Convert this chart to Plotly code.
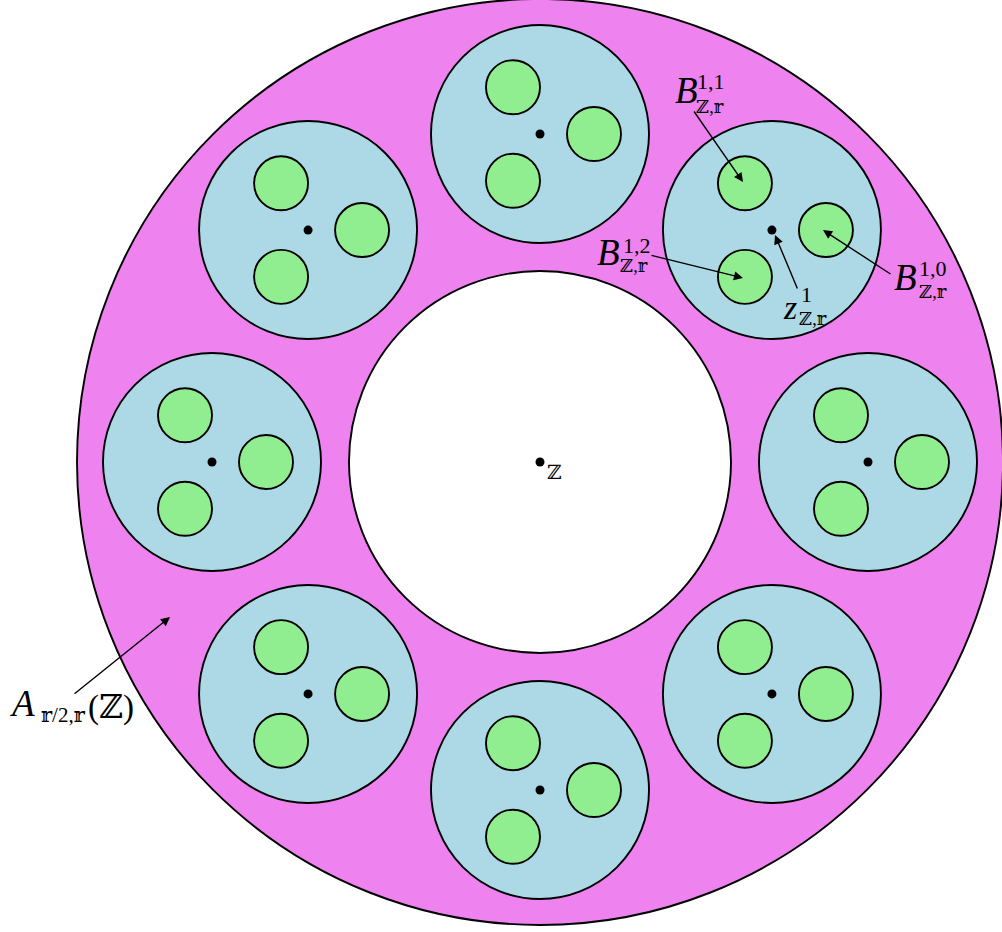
import math
import plotly.graph_objects as go

# ---- geometry (pixel-like units, y grows downward) ----
CENTER = (540.0, 462.0)
OUTER_R = 463.0
INNER_R = 191.0
RING_R = 328.0
BLUE_R = 109.0
GREEN_R = 27.0
GREEN_OFFSET = 54.0
DOT_R = 4.5
blue_angles_deg = [90, 45, 0, -45, -90, -135, 180, 135]
green_angles_deg = [0, 120, 240]

# ---- labels: text pieces, anchor centers, font sizes, italic flags ----
label_texts = ["B", "1,1", "ℤ,𝕣",
               "B", "1,2", "ℤ,𝕣",
               "z", "1", "ℤ,𝕣",
               "B", "1,0", "ℤ,𝕣",
               "A", "𝕣/2,𝕣", "(ℤ)",
               "ℤ"]
label_x = [686, 711, 710,
           608, 637, 634,
           790, 806, 813,
           905, 933, 933,
           22, 63, 111,
           554]
label_y = [90, 81, 107,
           252, 245, 266,
           307, 294, 319,
           277, 268, 292,
           703, 715, 707,
           472]
label_size = [37, 22, 18,
              37, 22, 18,
              34, 22, 18,
              37, 22, 18,
              37, 21, 33,
              20]
label_italic = [True, False, False,
                True, False, False,
                True, False, False,
                True, False, False,
                True, False, False,
                False]

# arrows: tail -> head
arrow_tail_x = [693, 650, 798, 892, 73]
arrow_tail_y = [110, 255, 290, 275, 695]
arrow_head_x = [743, 743, 775, 823, 170]
arrow_head_y = [182, 278, 235, 230, 617]

VIOLET = "#EE82EE"
LIGHTBLUE = "#ADD8E6"
LIGHTGREEN = "#90EE90"
LW = 1.9


def circle(cx, cy, r, fill, lw=LW, line="black"):
    return dict(type="circle", xref="x", yref="y",
                x0=cx - r, x1=cx + r, y0=cy - r, y1=cy + r,
                fillcolor=fill, line=dict(color=line, width=lw), layer="above")


shapes = []
cx0, cy0 = CENTER
shapes.append(circle(cx0, cy0, OUTER_R, VIOLET))
shapes.append(circle(cx0, cy0, INNER_R, "white"))
for a in blue_angles_deg:
    t = math.radians(a)
    bx = cx0 + RING_R * math.cos(t)
    by = cy0 - RING_R * math.sin(t)
    shapes.append(circle(bx, by, BLUE_R, LIGHTBLUE))
    for g in green_angles_deg:
        u = math.radians(g)
        gx = bx + GREEN_OFFSET * math.cos(u)
        gy = by - GREEN_OFFSET * math.sin(u)
        shapes.append(circle(gx, gy, GREEN_R, LIGHTGREEN))
    shapes.append(circle(bx, by, DOT_R, "black", lw=0, line="black"))
shapes.append(circle(cx0, cy0, DOT_R, "black", lw=0, line="black"))

annotations = []
for tx, ty, hx, hy in zip(arrow_tail_x, arrow_tail_y, arrow_head_x, arrow_head_y):
    annotations.append(dict(x=hx, y=hy, ax=tx, ay=ty, xref="x", yref="y",
                            axref="x", ayref="y", text="", showarrow=True,
                            arrowhead=2, arrowsize=1.3, arrowwidth=1.4,
                            arrowcolor="black", standoff=0, startstandoff=0))
for t, x, y, s, it in zip(label_texts, label_x, label_y, label_size, label_italic):
    annotations.append(dict(x=x, y=y, xref="x", yref="y", showarrow=False,
                            text=(f"<i>{t}</i>" if it else t),
                            font=dict(family="Liberation Serif, DejaVu Serif, serif",
                                      size=s, color="black"),
                            xanchor="center", yanchor="middle"))

fig = go.Figure()
fig.add_trace(go.Scatter(x=[0, 1002], y=[0, 932], mode="markers",
                         marker=dict(opacity=0), hoverinfo="skip", showlegend=False))
fig.update_layout(width=1002, height=932, margin=dict(l=0, r=0, t=0, b=0),
                  paper_bgcolor="white", plot_bgcolor="white",
                  shapes=shapes, annotations=annotations, showlegend=False,
                  xaxis=dict(range=[0, 1002], visible=False, fixedrange=True),
                  yaxis=dict(range=[932, 0], visible=False, fixedrange=True))
fig.write_html("out.html", config={"displayModeBar": False},
               post_script="document.body.style.margin='0';document.body.style.overflow='hidden';")
